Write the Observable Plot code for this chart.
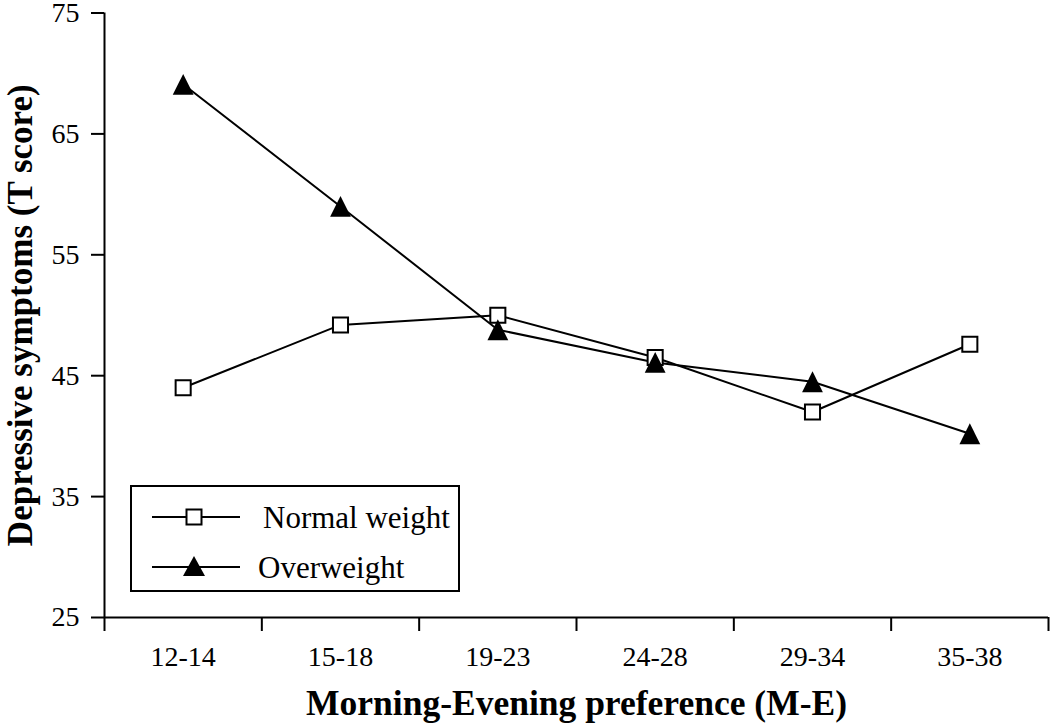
<!DOCTYPE html>
<html>
<head>
<meta charset="utf-8">
<script src="https://cdn.jsdelivr.net/npm/d3@7"></script>
<script src="https://cdn.jsdelivr.net/npm/@observablehq/plot@0.6"></script>
<style>
  html, body { margin: 0; padding: 0; background: #fff; }
  #wrap { position: relative; width: 1050px; height: 725px; }
  #wrap svg { position: absolute; left: 0; top: 0; }
</style>
</head>
<body>
<div id="wrap"></div>
<script>
// ---- data ----
const categories = ["12-14", "15-18", "19-23", "24-28", "29-34", "35-38"];
const normalWeight = [44.0, 49.2, 50.0, 46.5, 42.0, 47.6];
const overweight = [69.1, 59.0, 48.8, 46.1, 44.5, 40.2];
const seriesNames = ["Normal weight", "Overweight"];
const yTicks = [25, 35, 45, 55, 65, 75];
const xTitle = "Morning-Evening preference (M-E)";
const yTitle = "Depressive symptoms (T score)";

const normalData = categories.map((c, i) => ({series: seriesNames[0], cat: c, i, value: normalWeight[i]}));
const overData = categories.map((c, i) => ({series: seriesNames[1], cat: c, i, value: overweight[i]}));
const allData = normalData.concat(overData);

const boundaries = d3.range(categories.length + 1).map(i => i - 0.5);
const centers = d3.range(categories.length);

// triangle whose height equals its width
const triangle = {
  draw(context, size) {
    const r = Math.sqrt(size / Math.PI);
    context.moveTo(0, -r);
    context.lineTo(r, r);
    context.lineTo(-r, r);
    context.closePath();
  }
};

const FONT = "'Liberation Serif', 'Times New Roman', serif";

const chart = Plot.plot({
  width: 1050,
  height: 725,
  marginLeft: 104,
  marginRight: 2,
  marginTop: 12.5,
  marginBottom: 108,
  style: {fontFamily: FONT, fontSize: "28px", background: "white", color: "black", overflow: "visible"},
  x: {type: "linear", domain: [boundaries[0], boundaries[boundaries.length - 1]]},
  y: {domain: [yTicks[0], yTicks[yTicks.length - 1]]},
  marks: [
    Plot.ruleX([boundaries[0]], {stroke: "black", strokeWidth: 2}),
    Plot.ruleY([yTicks[0]], {stroke: "black", strokeWidth: 2}),
    Plot.axisY({ticks: yTicks, tickSize: 13, tickPadding: 12, fontSize: 28, strokeWidth: 2, label: null}),
    Plot.axisX({ticks: boundaries, tickSize: 14, strokeWidth: 2, tickFormat: () => "", label: null}),
    Plot.axisX({ticks: centers, tickSize: 0, tickPadding: 29, fontSize: 28, tickFormat: i => categories[i], label: null}),
    Plot.line(allData, {x: "i", y: "value", z: "series", stroke: "black", strokeWidth: 2}),
    Plot.dot(normalData, {x: "i", y: "value", symbol: "square", r: 8.5, fill: "white", stroke: "black", strokeWidth: 2}),
    Plot.dot(overData, {x: "i", y: "value", symbol: triangle, r: 10.4, fill: "black", stroke: "none"}),
    Plot.text([xTitle], {frameAnchor: "bottom", dy: 86, text: d => d, fontSize: 35.5, fontWeight: "bold", lineAnchor: "middle", textAnchor: "middle"}),
    Plot.text([yTitle], {frameAnchor: "left", dx: -84, rotate: -90, text: d => d, fontSize: 35, fontWeight: "bold", lineAnchor: "middle", textAnchor: "middle"})
  ]
});

const wrap = document.getElementById("wrap");
wrap.appendChild(chart);

// ---- legend (overlay) ----
const leg = d3.create("svg")
  .attr("width", 1050).attr("height", 725)
  .style("pointer-events", "none");
leg.append("rect")
  .attr("x", 131).attr("y", 486).attr("width", 328).attr("height", 105)
  .attr("fill", "white").attr("stroke", "black").attr("stroke-width", 2);
const rows = [
  {name: seriesNames[0], y: 517, tx: 263, kind: "square"},
  {name: seriesNames[1], y: 567, tx: 258, kind: "triangle"}
];
for (const r of rows) {
  leg.append("line").attr("x1", 152).attr("x2", 240).attr("y1", r.y).attr("y2", r.y)
    .attr("stroke", "black").attr("stroke-width", 2);
  if (r.kind === "square") {
    leg.append("rect").attr("x", 194 - 7.5).attr("y", r.y - 7.5).attr("width", 15).attr("height", 15)
      .attr("fill", "white").attr("stroke", "black").attr("stroke-width", 2);
  } else {
    leg.append("path").attr("d", `M194,${r.y - 11}L205,${r.y + 9}L183,${r.y + 9}Z`).attr("fill", "black");
  }
  leg.append("text").attr("x", r.tx).attr("y", r.y).attr("dy", "0.35em")
    .attr("font-family", FONT).attr("font-size", 31).attr("fill", "black")
    .text(r.name);
}
wrap.appendChild(leg.node());
</script>
</body>
</html>
